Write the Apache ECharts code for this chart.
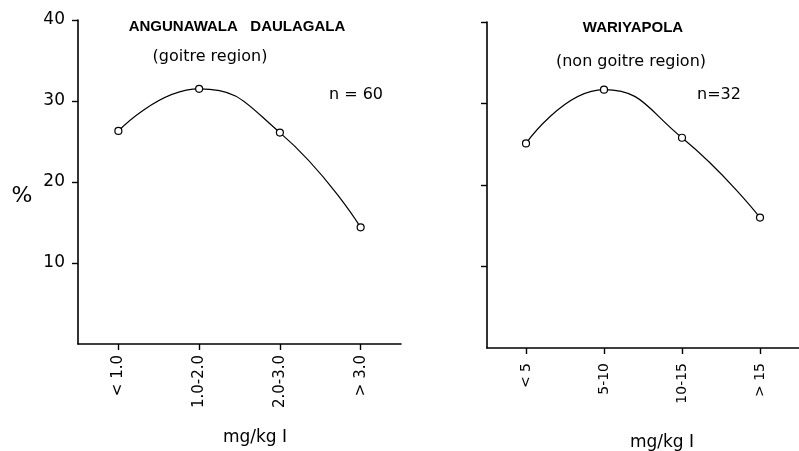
<!DOCTYPE html>
<html>
<head>
<meta charset="utf-8">
<script src="https://cdn.jsdelivr.net/npm/echarts@6/dist/echarts.min.js"></script>
<style>
html,body{margin:0;padding:0;background:#fff;}
#chart{width:799px;height:451px;}
</style>
</head>
<body>
<div id="chart"></div>
<script>
// ---- data ----
var leftCategories = ['< 1.0', '1.0-2.0', '2.0-3.0', '> 3.0'];
var leftValues = [26.3, 31.5, 26.1, 14.4];
var rightCategories = ['< 5', '5-10', '10-15', '> 15'];
var rightValues = [25.1, 31.7, 25.8, 16.0];
var yTicks = [10, 20, 30, 40];

var leftTitle = 'ANGUNAWALA   DAULAGALA';
var leftSubtitle = '(goitre region)';
var leftN = 'n = 60';
var rightTitle = 'WARIYAPOLA';
var rightSubtitle = '(non goitre region)';
var rightN = 'n=32';
var xName = 'mg/kg I';
var yName = '%';

var FONT = '"DejaVu Sans", sans-serif';
var chart = echarts.init(document.getElementById('chart'), null, {renderer: 'canvas'});

function xAxisCfg(gridIndex, cats, margin, size) {
  return {
    type: 'category', gridIndex: gridIndex, data: cats, boundaryGap: true,
    axisLine: {show: true, lineStyle: {color: '#000', width: 1.6}},
    axisTick: {show: true, alignWithLabel: true, length: 6, inside: false, lineStyle: {color: '#000', width: 1.4}},
    axisLabel: {rotate: 90, margin: margin, color: '#000', fontSize: size, fontFamily: FONT},
    splitLine: {show: false}
  };
}
function yAxisCfg(gridIndex, showLabels) {
  return {
    type: 'value', gridIndex: gridIndex, min: 0, max: 40, interval: 10,
    axisLine: {show: true, lineStyle: {color: '#000', width: 1.6}},
    axisTick: {show: true, length: 6, customValues: yTicks, lineStyle: {color: '#000', width: 1.4}},
    axisLabel: {show: showLabels, margin: 13, color: '#000', fontSize: 17, fontFamily: FONT,
      customValues: yTicks},
    splitLine: {show: false}
  };
}
function seriesCfg(idx, vals) {
  return {
    type: 'line', xAxisIndex: idx, yAxisIndex: idx, data: vals, smooth: 0.5,
    symbol: 'circle', symbolSize: 7, showSymbol: true,
    lineStyle: {color: '#000', width: 1.2},
    itemStyle: {color: '#fff', borderColor: '#000', borderWidth: 1.2},
    silent: true, animation: false
  };
}
function txt(text, x, y, size, weight, family) {
  return {type: 'text', x: x, y: y, silent: true,
    style: {text: text, fill: '#000', fontSize: size, fontWeight: weight || 'normal',
      fontFamily: family || FONT, align: 'center', verticalAlign: 'middle'}};
}

var option = {
  backgroundColor: '#fff',
  animation: false,
  grid: [
    {left: 78, top: 20, width: 323, height: 324},
    {left: 487, top: 22, width: 326, height: 326}
  ],
  xAxis: [xAxisCfg(0, leftCategories, 11, 15), xAxisCfg(1, rightCategories, 15, 14)],
  yAxis: [yAxisCfg(0, true), yAxisCfg(1, false)],
  series: [seriesCfg(0, leftValues), seriesCfg(1, rightValues)],
  graphic: [
    txt(leftTitle, 237, 27, 15, 'bold', '"Liberation Sans", Arial, sans-serif'),
    txt(leftSubtitle, 210, 57, 16),
    txt(leftN, 356, 95, 16),
    txt(rightTitle, 633, 28, 15, 'bold', '"Liberation Sans", Arial, sans-serif'),
    txt(rightSubtitle, 631, 62, 16),
    txt(rightN, 719, 95, 16),
    txt(xName, 255, 438, 17),
    txt(xName, 662, 443, 17),
    txt(yName, 22, 196, 22)
  ]
};
chart.setOption(option);
</script>
</body>
</html>
